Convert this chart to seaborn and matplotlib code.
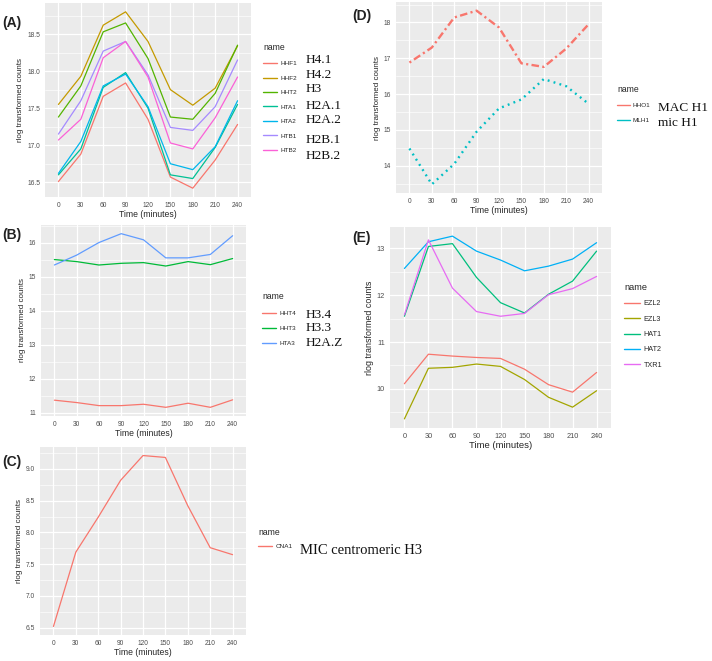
import pandas as pd
import matplotlib
matplotlib.use('Agg')
import matplotlib.pyplot as plt
import seaborn as sns
from matplotlib.ticker import MultipleLocator

W, H = 712, 661

times = [0, 30, 60, 90, 120, 150, 180, 210, 240]

# (A) core histones
a_names = ['HHF1', 'HHF2', 'HHT2', 'HTA1', 'HTA2', 'HTB1', 'HTB2']
a_hhf1 = [16.51, 16.88, 17.66, 17.84, 17.35, 16.57, 16.42, 16.80, 17.28]
a_hhf2 = [17.55, 17.93, 18.62, 18.80, 18.40, 17.75, 17.54, 17.77, 18.34]
a_hht2 = [17.38, 17.80, 18.53, 18.65, 18.17, 17.38, 17.35, 17.70, 18.35]
a_hta1 = [16.60, 16.95, 17.78, 17.98, 17.50, 16.60, 16.55, 16.97, 17.55]
a_hta2 = [16.62, 17.05, 17.80, 17.96, 17.52, 16.75, 16.67, 16.98, 17.60]
a_htb1 = [17.15, 17.60, 18.27, 18.40, 17.95, 17.24, 17.20, 17.52, 18.15]
a_htb2 = [17.07, 17.35, 18.18, 18.40, 17.92, 17.03, 16.95, 17.37, 17.92]
a_alias = ['H4.1', 'H4.2', 'H3', 'H2A.1', 'H2A.2', 'H2B.1', 'H2B.2']

# (B) variants
b_names = ['HHT4', 'HHT3', 'HTA3']
b_hht4 = [11.37, 11.30, 11.21, 11.21, 11.25, 11.16, 11.28, 11.16, 11.38]
b_hht3 = [15.50, 15.44, 15.34, 15.39, 15.41, 15.31, 15.44, 15.35, 15.53]
b_hta3 = [15.34, 15.63, 16.00, 16.26, 16.08, 15.55, 15.55, 15.65, 16.20]
b_alias = ['H3.4', 'H3.3', 'H2A.Z']

# (C) CNA1
c_names = ['CNA1']
c_cna1 = [6.52, 7.69, 8.24, 8.82, 9.21, 9.18, 8.42, 7.76, 7.65]
c_alias = ['MIC centromeric H3']

# (D) linker histones
d_names = ['HHO1', 'MLH1']
d_hho1 = [16.88, 17.30, 18.14, 18.33, 17.86, 16.86, 16.76, 17.27, 17.95]
d_mlh1 = [14.48, 13.48, 14.05, 14.95, 15.60, 15.85, 16.42, 16.22, 15.73]
d_alias = ['MAC H1', 'mic H1']

# (E) chromatin modifiers
e_names = ['EZL2', 'EZL3', 'HAT1', 'HAT2', 'TXR1']
e_ezl2 = [10.11, 10.74, 10.70, 10.67, 10.65, 10.42, 10.09, 9.93, 10.35]
e_ezl3 = [9.36, 10.44, 10.46, 10.53, 10.48, 10.20, 9.82, 9.61, 9.96]
e_hat1 = [11.55, 13.04, 13.10, 12.38, 11.84, 11.62, 12.02, 12.30, 12.94]
e_hat2 = [12.57, 13.14, 13.26, 12.94, 12.75, 12.52, 12.62, 12.77, 13.12]
e_txr1 = [11.58, 13.18, 12.15, 11.65, 11.55, 11.61, 12.01, 12.14, 12.40]


def long_df(names, series):
    rows = []
    for n, s in zip(names, series):
        for t, v in zip(times, s):
            rows.append({'time': t, 'value': v, 'name': n})
    return pd.DataFrame(rows)


sns.set_theme(style='darkgrid', rc={
    'axes.facecolor': '#EBEBEB',
    'grid.color': 'white',
    'axes.edgecolor': '#EBEBEB',
})
plt.rcParams['font.family'] = ['Liberation Sans', 'DejaVu Sans']

fig = plt.figure(figsize=(W / 100, H / 100), dpi=100)


def add_panel(rect, df, names, colors, ystep, tick_fs, lab_fs, lw=0.9):
    l, t, w, h = rect
    ax = fig.add_axes([l / W, 1 - (t + h) / H, w / W, h / H])
    sns.lineplot(data=df, x='time', y='value', hue='name', hue_order=names,
                 palette=colors, linewidth=lw, ax=ax)
    vmin, vmax = df['value'].min(), df['value'].max()
    pad = (vmax - vmin) * 0.05
    ax.set_ylim(vmin - pad, vmax + pad)
    ax.set_xlim(-18, 258)
    ax.set_xticks(times)
    ax.yaxis.set_major_locator(MultipleLocator(ystep))
    ax.yaxis.set_minor_locator(MultipleLocator(ystep / 2))
    ax.grid(which='major', color='white', linewidth=0.9)
    ax.grid(which='minor', axis='y', color='white', linewidth=0.45)
    ax.tick_params(which='major', length=2, width=0.6, color='#333333',
                   labelsize=tick_fs, labelcolor='#4D4D4D', pad=1.5)
    ax.tick_params(which='minor', length=0)
    ax.set_xlabel('Time (minutes)', fontsize=lab_fs, labelpad=1)
    ax.set_ylabel('rlog transformed counts', fontsize=lab_fs - 0.4, labelpad=2)
    for s in ax.spines.values():
        s.set_visible(False)
    return ax


def add_legend(ax, x, y, fs, title_fs, spacing, hl=2.2):
    old = ax.get_legend()
    handles = old.legend_handles
    labels = [tx.get_text() for tx in old.get_texts()]
    old.remove()
    for hd in handles:
        hd.set_linestyle('-')
        hd.set_linewidth(1.0)
    ax.legend(handles, labels, title='name', loc='upper left',
              bbox_to_anchor=(x / W, 1 - y / H), bbox_transform=fig.transFigure,
              frameon=False, fontsize=fs, title_fontsize=title_fs,
              handlelength=hl, handletextpad=0.5, labelspacing=spacing,
              borderpad=0, borderaxespad=0, alignment='left')


def alias_text(x, ys, labels, fs):
    for yy, lab in zip(ys, labels):
        fig.text(x / W, 1 - yy / H, lab, fontsize=fs, va='center', ha='left',
                 family='Liberation Serif', color='#111111')


# (A)
df_a = long_df(a_names, [a_hhf1, a_hhf2, a_hht2, a_hta1, a_hta2, a_htb1, a_htb2])
ax_a = add_panel((45, 3, 206, 194), df_a, a_names,
                 ['#F8766D', '#C49A00', '#53B400', '#00C094', '#00B6EB', '#A58AFF', '#FB61D7'],
                 0.5, 4.8, 6.2)
add_legend(ax_a, 263, 43, 4.6, 6.2, 1.4)
alias_text(306, [60, 75, 89, 106, 120, 140, 156], a_alias, 9.5)

# (B)
df_b = long_df(b_names, [b_hht4, b_hht3, b_hta3])
ax_b = add_panel((41, 225, 205, 191), df_b, b_names,
                 ['#F8766D', '#00BA38', '#619CFF'], 1, 4.8, 6.2)
add_legend(ax_b, 262, 292, 4.6, 6.2, 1.5)
alias_text(306, [315, 328, 343], b_alias, 9.5)

# (C)
df_c = long_df(c_names, [c_cna1])
ax_c = add_panel((40, 447, 206, 188), df_c, c_names, ['#F8766D'], 0.5, 4.8, 6.2)
add_legend(ax_c, 258, 528, 4.6, 6.2, 1.1)
alias_text(300, [550], c_alias, 10.5)

# (D)
df_d = long_df(d_names, [d_hho1, d_mlh1])
ax_d = add_panel((396, 2, 206, 191), df_d, d_names, ['#F8766D', '#00BFC4'],
                 1, 4.8, 6.2, lw=1.7)
for line, dash in zip(ax_d.lines, [(0.9, 1.4, 3.2, 1.4), (0.8, 1.8)]):
    line.set_dashes(dash)
add_legend(ax_d, 617, 85, 4.6, 6.2, 1.4, hl=2.0)
alias_text(658, [108, 123], d_alias, 9.5)

# (E)
df_e = long_df(e_names, [e_ezl2, e_ezl3, e_hat1, e_hat2, e_txr1])
ax_e = add_panel((390, 227, 221, 201), df_e, e_names,
                 ['#F8766D', '#A3A500', '#00BF7D', '#00B0F6', '#E76BF3'],
                 1, 5.3, 6.8)
add_legend(ax_e, 624, 283, 5.2, 6.6, 1.15)

# panel letters
for lab, x, y in [('(A)', 2, 23), ('(B)', 2, 235), ('(C)', 2, 462),
                  ('(D)', 352, 16), ('(E)', 352, 238)]:
    fig.text(x / W, 1 - y / H, lab, fontsize=10, fontweight='bold',
             va='center', ha='left', color='#222222')

fig.savefig('out.png', dpi=100)
